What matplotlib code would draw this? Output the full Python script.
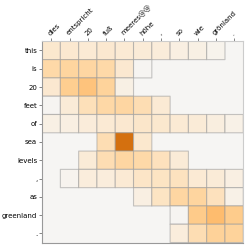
import numpy as np
import matplotlib
matplotlib.use('Agg')
import matplotlib.pyplot as plt
from matplotlib.colors import LinearSegmentedColormap

# source (columns) and target (rows) tokens
src_tokens = ['dies', 'entspricht', '20', 'fuß', 'meeres@@', 'höhe', ',', 'so', 'wie', 'grönland', '.']
tgt_tokens = ['this', 'is', '20', 'feet', 'of', 'sea', 'levels', ',', 'as', 'greenland', '.']

# attention weights per target row: (first source column, values)
row_this = (0, [0.14, 0.13, 0.12, 0.13, 0.12, 0.11, 0.10, 0.07, 0.06, 0.03])
row_is = (0, [0.25, 0.28, 0.27, 0.25, 0.13, 0.01])
row_20 = (0, [0.13, 0.33, 0.40, 0.29, 0.06])
row_feet = (0, [0.01, 0.11, 0.20, 0.26, 0.27, 0.22, 0.12])
row_of = (0, [0.06, 0.07, 0.10, 0.12, 0.13, 0.15, 0.14, 0.12, 0.11, 0.08, 0.05])
row_sea = (3, [0.22, 1.00, 0.14])
row_levels = (2, [0.11, 0.22, 0.27, 0.25, 0.19, 0.11])
row_comma = (1, [0.02, 0.09, 0.09, 0.12, 0.16, 0.17, 0.18, 0.12, 0.11, 0.07])
row_as = (5, [0.07, 0.17, 0.27, 0.28, 0.19, 0.05])
row_greenland = (7, [0.01, 0.35, 0.45, 0.34])
row_period = (7, [0.09, 0.22, 0.30, 0.29])

rows = [row_this, row_is, row_20, row_feet, row_of, row_sea, row_levels,
        row_comma, row_as, row_greenland, row_period]

grid = np.full((len(tgt_tokens), len(src_tokens)), np.nan)
for i, (start, vals) in enumerate(rows):
    grid[i, start:start + len(vals)] = vals
grid = np.ma.masked_invalid(grid)

cmap = LinearSegmentedColormap.from_list('attn', [
    (0.0, '#f6f5f3'),
    (0.1, '#faecda'),
    (0.2, '#fde0b9'),
    (0.3, '#fed298'),
    (0.45, '#febc6e'),
    (1.0, '#d4700f'),
])

fig = plt.figure(figsize=(2.49, 2.49), dpi=100)
ax = fig.add_axes([0.169, 0.026, 0.808, 0.808])
ax.set_facecolor('#f6f5f3')

# pcolor skips masked cells, so empty cells get no border
ax.pcolor(grid, cmap=cmap, vmin=0, vmax=1,
          edgecolors=(0.6, 0.6, 0.6, 0.55), linewidth=0.8)

ax.set_xlim(0, len(src_tokens))
ax.set_ylim(len(tgt_tokens), 0)

ax.xaxis.tick_top()
ax.set_xticks(np.arange(len(src_tokens)) + 0.5)
ax.set_xticklabels(src_tokens, rotation=45, ha='left', rotation_mode='anchor', fontsize=5)
ax.set_yticks(np.arange(len(tgt_tokens)) + 0.5)
ax.set_yticklabels(tgt_tokens, fontsize=5)
ax.tick_params(length=2, width=0.5, color='#555555', pad=1.5)

for side in ['left', 'bottom']:
    ax.spines[side].set_color('#999999')
    ax.spines[side].set_linewidth(0.8)
for side in ['top', 'right']:
    ax.spines[side].set_color('#cccccc')
    ax.spines[side].set_linewidth(0.8)

fig.savefig('out.png', dpi=100)
